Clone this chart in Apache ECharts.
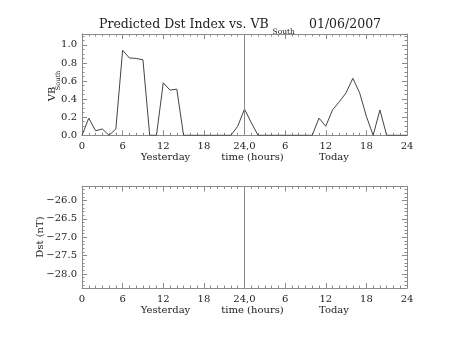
<!DOCTYPE html>
<html>
<head>
<meta charset="utf-8">
<script src="https://cdn.jsdelivr.net/npm/echarts@6/dist/echarts.min.js"></script>
<style>
  html, body { margin: 0; padding: 0; background: #fff; }
  #chart { width: 453px; height: 340px; }
</style>
</head>
<body>
<div id="chart"></div>
<script>
// Hours counted from the start of yesterday (0..48)
const hours = [];
for (let h = 0; h <= 48; h++) hours.push(h);

// Southward IMF component VB_South, hourly
const vbSouth = [
  0.00, 0.19, 0.05, 0.07, 0.00, 0.07, 0.94, 0.855, 0.85, 0.835,
  0.00, 0.00, 0.58, 0.50, 0.51, 0.00, 0.00, 0.00, 0.00, 0.00,
  0.00, 0.00, 0.00, 0.10, 0.29, 0.14, 0.00, 0.00, 0.00, 0.00,
  0.00, 0.00, 0.00, 0.00, 0.00, 0.19, 0.10, 0.28, 0.37, 0.47,
  0.63, 0.47, 0.21, 0.00, 0.28, 0.00, 0.00, 0.00, 0.00
];

// Predicted Dst (nT): no values available for this date
const dstValues = [];

// Axis tick labels
const xTickLabels = ['0', '6', '12', '18', '24,0', '6', '12', '18', '24'];
const dayNames = ['Yesterday', 'time (hours)', 'Today'];

const FONT = 'DejaVu Serif';
const TXT = '#222';
const AX = '#8a8a8a';

const vbRange = [0, 1.12];
const dstRange = [-28.38, -25.62];

function xAxisFor(gridIndex, pos, labels) {
  return {
    type: 'value', gridIndex, position: pos, min: 0, max: 48, interval: 6,
    axisLine: { show: true, onZero: false, lineStyle: { color: AX, width: 1 } },
    axisTick: { show: true, inside: true, length: 5, lineStyle: { color: AX } },
    minorTick: { show: true, splitNumber: 6, length: 2.5, lineStyle: { color: AX } },
    splitLine: { show: false },
    axisLabel: {
      show: labels, margin: 6, fontFamily: FONT, fontSize: 10, color: TXT,
      formatter: v => xTickLabels[Math.round(v / 6)]
    }
  };
}

function yAxisFor(gridIndex, pos, labels, range, extra) {
  return Object.assign({
    type: 'value', gridIndex, position: pos, min: range[0], max: range[1],
    axisLine: { show: true, onZero: false, lineStyle: { color: AX, width: 1 } },
    axisTick: { show: true, inside: true, length: 5, lineStyle: { color: AX } },
    splitLine: { show: false },
    axisLabel: {
      show: labels, margin: 5, fontFamily: FONT, fontSize: 10, color: TXT,
      showMaxLabel: false, showMinLabel: range[0] === 0,
      formatter: v => v.toFixed(1).replace('-', '\u2212')
    }
  }, extra);
}

const vbExtra = { interval: 0.2, minorTick: { show: true, splitNumber: 4, length: 2.5, lineStyle: { color: AX } } };
const dstExtra = { splitNumber: 5, minorTick: { show: true, splitNumber: 5, length: 2.5, lineStyle: { color: AX } } };

const dayLabelX = [165.5, 252.5, 334];

function txt(props, style) {
  return Object.assign({ type: 'text' }, props, {
    style: Object.assign({ fontFamily: FONT, fontSize: 10, fill: TXT, verticalAlign: 'middle' }, style)
  });
}

const chart = echarts.init(document.getElementById('chart'), null, { renderer: 'canvas' });
chart.setOption({
  animation: false,
  backgroundColor: '#fff',
  grid: [
    { left: 82, top: 34, width: 325, height: 101.3 },
    { left: 82, top: 186.5, width: 325, height: 101.5 }
  ],
  xAxis: [
    xAxisFor(0, 'bottom', true),
    xAxisFor(0, 'top', false),
    xAxisFor(1, 'bottom', true),
    xAxisFor(1, 'top', false)
  ],
  yAxis: [
    yAxisFor(0, 'left', true, vbRange, vbExtra),
    yAxisFor(0, 'right', false, vbRange, vbExtra),
    yAxisFor(1, 'left', true, dstRange, dstExtra),
    yAxisFor(1, 'right', false, dstRange, dstExtra)
  ],
  series: [
    {
      type: 'line', xAxisIndex: 0, yAxisIndex: 0,
      data: hours.map((h, i) => [h, vbSouth[i]]),
      showSymbol: false, symbol: 'none',
      lineStyle: { color: '#444', width: 1 },
      markLine: {
        silent: true, symbol: 'none', label: { show: false },
        lineStyle: { type: 'solid', color: AX, width: 1 },
        data: [{ xAxis: 24 }]
      }
    },
    {
      type: 'line', xAxisIndex: 2, yAxisIndex: 2,
      data: dstValues,
      showSymbol: false, symbol: 'none',
      lineStyle: { color: '#444', width: 1 },
      markLine: {
        silent: true, symbol: 'none', label: { show: false },
        lineStyle: { type: 'solid', color: AX, width: 1 },
        data: [{ xAxis: 24 }]
      }
    }
  ],
  graphic: [
    // title with subscript
    txt({ x: 99, y: 24.5 }, { text: 'Predicted Dst Index vs. VB', fontSize: 12.5, align: 'left' }),
    txt({ x: 272.5, y: 32 }, { text: 'South', fontSize: 7.5, align: 'left' }),
    txt({ x: 309, y: 24.5 }, { text: '01/06/2007', fontSize: 12.5, align: 'left' }),
    // y-axis titles, rotated to read bottom-to-top
    txt({ x: 52, y: 94, rotation: Math.PI / 2 }, { text: 'VB', align: 'center' }),
    txt({ x: 58.5, y: 80.5, rotation: Math.PI / 2 }, { text: 'South', fontSize: 6.5, align: 'center' }),
    txt({ x: 40, y: 237, rotation: Math.PI / 2 }, { text: 'Dst (nT)', align: 'center' })
  ].concat(
    dayNames.map((t, i) => txt({ x: dayLabelX[i], y: 157.3 }, { text: t, align: 'center' })),
    dayNames.map((t, i) => txt({ x: dayLabelX[i], y: 310.3 }, { text: t, align: 'center' }))
  )
});
</script>
</body>
</html>
